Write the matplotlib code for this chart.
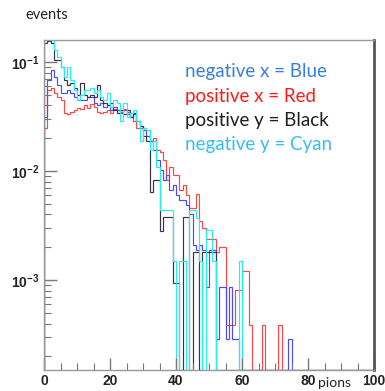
import matplotlib
matplotlib.use('Agg')
import matplotlib.pyplot as plt
import numpy as np
from matplotlib.ticker import MultipleLocator, LogLocator, NullFormatter

n_bins = 100
x_min, x_max = 0, 100
y_min, y_max = 1.5e-4, 0.159

# negative x (Blue)
neg_x = [0.031, 0.068, 0.084, 0.073, 0.062, 0.052, 0.052, 0.055, 0.052, 0.048,
         0.045, 0.045, 0.045, 0.048, 0.048, 0.042, 0.040, 0.042, 0.039, 0.040,
         0.036, 0.039, 0.036, 0.034, 0.036, 0.033, 0.031, 0.033, 0.029, 0.026,
         0.024, 0.021, 0.019, 0.0156, 0.0126, 0.0102, 0.0083, 0.0092, 0.0067, 0.0074,
         0.0060, 0.0054, 0.0054, 0.0049, 0.0040, 0.0021, 0.0019, 0.0021, 0.0019, 0.00086,
         0.0019, 0.0019, 0.00029, 0.00086, 0.00086, 0.00029, 0.00086, 0.00029, 0.00029, 0,
         0, 0, 0, 0, 0, 0, 0, 0, 0, 0,
         0, 0, 0, 0, 0.00029]
# positive x (Red)
pos_x = [0.025, 0.055, 0.058, 0.052, 0.048, 0.045, 0.034, 0.033, 0.035, 0.036,
         0.038, 0.037, 0.040, 0.038, 0.041, 0.039, 0.035, 0.034, 0.035, 0.036,
         0.034, 0.037, 0.036, 0.035, 0.037, 0.035, 0.031, 0.029, 0.025, 0.025,
         0.025, 0.024, 0.019, 0.020, 0.0156, 0.0150, 0.0126, 0.0083, 0.011, 0.0092,
         0.0092, 0.0067, 0.0074, 0.0060, 0.0046, 0.0046, 0.0062, 0.0035, 0.0030, 0.0024,
         0.0024, 0.0024, 0.0018, 0.0020, 0.0020, 0.00039, 0.00039, 0.00039, 0.00081, 0.00081,
         0.0012, 0.0012, 0.00039, 0, 0, 0, 0.00039, 0, 0, 0,
         0, 0.00039]
# positive y (Black)
pos_y = [0.150, 0.155, 0.150, 0.104, 0.104, 0.090, 0.068, 0.062, 0.064, 0.058,
         0.050, 0.064, 0.050, 0.048, 0.050, 0.048, 0.062, 0.045, 0.042, 0.040,
         0.042, 0.036, 0.034, 0.036, 0.033, 0.036, 0.031, 0.034, 0.029, 0.026,
         0.021, 0.019, 0.0064, 0.0083, 0.0083, 0.0028, 0.0038, 0.0038, 0.0038, 0.00095,
         0.00095, 0, 0.0038, 0.0038, 0, 0.0018, 0.0018, 0, 0.0018, 0.0018,
         0.0018, 0.0018]
# negative y (Cyan)
neg_y = [0.17, 0.17, 0.17, 0.129, 0.111, 0.090, 0.073, 0.090, 0.068, 0.055,
         0.045, 0.050, 0.055, 0.055, 0.058, 0.052, 0.055, 0.048, 0.045, 0.052,
         0.039, 0.045, 0.042, 0.029, 0.042, 0.031, 0.034, 0.036, 0.029, 0.019,
         0.025, 0.024, 0.0156, 0.019, 0.011, 0.0044, 0.0044, 0.0044, 0.0044, 0.0015,
         0, 0.0015, 0.0015, 0, 0.0044, 0.0044, 0.0037, 0.0015, 0, 0.0029,
         0.0029, 0.0015, 0, 0, 0, 0, 0, 0, 0, 0.0015]

series = [pos_x, neg_x, pos_y, neg_y]
line_colors = ['#ff4545', '#4a4aff', '#34344c', '#22f0f0']

legend_texts = ['negative x = Blue', 'positive x = Red', 'positive y = Black', 'negative y = Cyan']
legend_colors = ['#3a7fd5', '#ff1a1a', '#1e1e1e', '#35bef0']

edges = np.linspace(x_min, x_max, n_bins + 1)

fig = plt.figure(figsize=(3.85, 3.91), dpi=100)
ax = fig.add_axes([44/385, 1 - 370/391, 330/385, 330/391])

for vals, col in zip(series, line_colors):
    v = np.zeros(n_bins)
    v[:len(vals)] = vals
    v = np.where(v > 0, v, y_min)
    ax.stairs(v, edges, color=col, lw=0.85, baseline=y_min)

ax.set_yscale('log')
ax.set_xlim(x_min, x_max)
ax.set_ylim(y_min, y_max)

ax.xaxis.set_major_locator(MultipleLocator(20))
ax.xaxis.set_minor_locator(MultipleLocator(5))
ax.yaxis.set_major_locator(LogLocator(base=10))
ax.yaxis.set_minor_locator(LogLocator(base=10, subs=np.arange(2, 10)))
ax.yaxis.set_minor_formatter(NullFormatter())

ax.tick_params(axis='both', which='major', direction='in', length=9, width=1,
               color='#777777', labelsize=10, labelcolor='#222222', pad=3)
ax.tick_params(axis='both', which='minor', direction='in', length=5, width=0.8,
               color='#777777')
ax.tick_params(top=False, right=False)
for lab in ax.get_xticklabels() + ax.get_yticklabels():
    lab.set_fontfamily('Liberation Sans')
    lab.set_fontweight('bold')

for side in ['left', 'bottom', 'top']:
    ax.spines[side].set_color('#999999')
    ax.spines[side].set_linewidth(1.0)
ax.spines['right'].set_color('#555555')
ax.spines['right'].set_linewidth(2.0)

for i, (t, c) in enumerate(zip(legend_texts, legend_colors)):
    fig.text(185/385, 1 - (72 + 24.3*i)/391, t, color=c, fontsize=13.5,
             family='Lato', va='center', ha='left')

fig.text(25/385, 1 - 15/391, 'events', fontsize=10.5, family='Lato', va='center', ha='left', color='#222222')
fig.text(318/385, 1 - 383/391, 'pions', fontsize=10, family='Lato', va='center', ha='left', color='#222222')

fig.savefig('out.png', dpi=100)
